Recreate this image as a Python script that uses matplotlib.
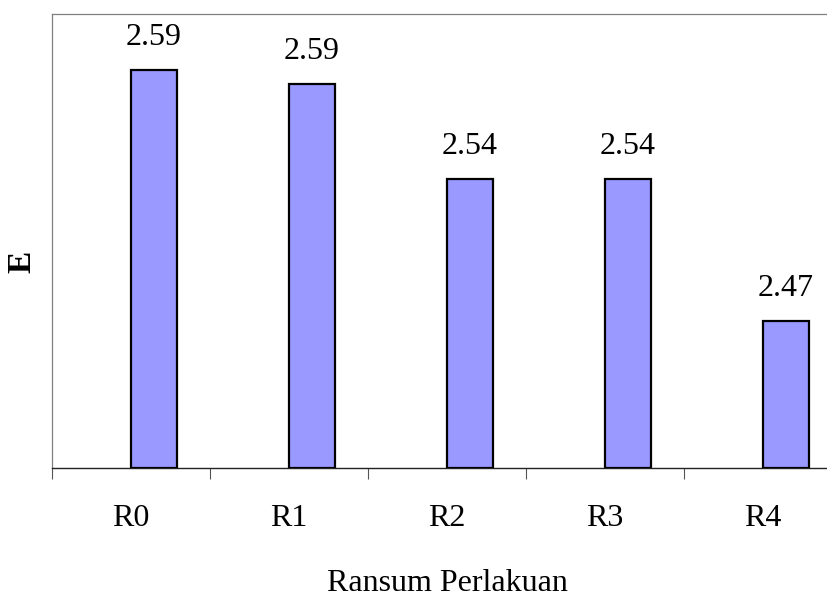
import matplotlib
matplotlib.use("Agg")
import matplotlib.pyplot as plt
import numpy as np

categories = ["R0", "R1", "R2", "R3", "R4"]
values = [2.593, 2.586, 2.540, 2.540, 2.471]
y_min, y_max = 2.40, 2.62

plt.rcParams["font.family"] = ["Liberation Serif", "DejaVu Serif"]

fig = plt.figure(figsize=(8.27, 5.98), dpi=100)
W, H = 827, 598
left, right, top, bottom = 52, 842, 14, 468
ax = fig.add_axes([left / W, (H - bottom) / H, (right - left) / W, (bottom - top) / H])

x = np.arange(len(categories))
bar_w = 0.29
ax.bar(x, [v - y_min for v in values], width=bar_w, bottom=y_min, align="edge",
       color="#9999FF", edgecolor="black", linewidth=1.6, zorder=3)

for xi, v in zip(x, values):
    ax.annotate(f"{v:.2f}", xy=(xi + bar_w / 2, v), xytext=(0, 13),
                textcoords="offset points", ha="center", va="bottom", fontsize=23)

ax.set_xlim(-0.5, len(categories) - 0.5)
ax.set_ylim(y_min, y_max)
ax.set_xticks(np.arange(-0.5, len(categories) + 0.5, 1.0))
ax.set_xticklabels([])
ax.set_xticks(x, minor=True)
ax.set_xticklabels(categories, minor=True, fontsize=23)
ax.tick_params(axis="x", which="major", length=8, width=0.8, color="#555555", direction="out")
ax.tick_params(axis="x", which="minor", length=0, pad=26)
ax.set_yticks([])

for s in ("left", "top", "right"):
    ax.spines[s].set_color("#808080")
    ax.spines[s].set_linewidth(0.9)
ax.spines["bottom"].set_color("#222222")
ax.spines["bottom"].set_linewidth(1.0)

ax.set_xlabel("Ransum Perlakuan", fontsize=23, labelpad=26)
fig.text(22 / W, 1 - 262 / H, "E", rotation=90, fontsize=24, fontweight="bold",
         ha="center", va="center")

fig.savefig("out.png", dpi=100)
